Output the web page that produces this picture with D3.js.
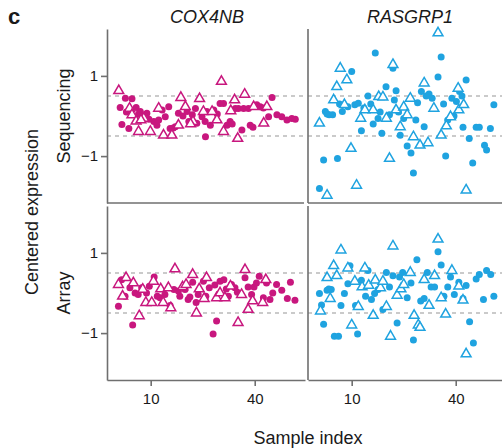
<!DOCTYPE html>
<html>
<head>
<meta charset="utf-8">
<script src="https://cdn.jsdelivr.net/npm/d3@7"></script>
<style>
  html, body { margin: 0; padding: 0; background: #fff; }
  svg { display: block; }
  text { font-family: "Liberation Sans", Arial, sans-serif; fill: #1a1a1a; }
</style>
</head>
<body>
<svg id="chart" width="502" height="448"></svg>
<script>
// ---------- data ----------
const genes = ["COX4NB", "RASGRP1"];
const platforms = ["Sequencing", "Array"];
const xTicks = [10, 40];
const yTicks = [-1, 1];
const refLines = [-0.5, 0.5];
const geneColors = ["#c8177e", "#1fa3e0"];

// Sequencing / COX4NB
const seqCoxCircX = [1.2,2.7,4.6,1.7,3.7,5.8,7,8.9,10.9,11.8,13.3,14.2,15.2,15.6,17.1,18,20.5,21,22,22.9,23.3,24.8,25.7,26.2,27.2,25.8,28.2,30,31,32,32.9,34.4,35.3,36.3,36.8,38.2,38.7,39.5,40.6,41.6,44,45,46.4,47.8,49.3,50.7,51.7,9.5,6.5,19.3,29.2,33.5,42.5,12.3,16.5,3];
const seqCoxCircY = [0.21,0.44,0.43,-0.21,-0.31,0.21,0.11,0.07,-0.14,-0.23,0.15,-0.02,0.23,-0.31,-0.27,0.07,0.11,-0.14,0.03,0.19,-0.18,-0.02,-0.14,0.11,-0.23,-0.52,0.15,0.31,0.31,-0.23,-0.14,0.19,0.19,-0.35,0.19,0.19,-0.23,-0.28,0.28,0.23,-0.02,0.46,0.03,-0.02,-0.1,-0.06,-0.08,-0.08,0.05,0.0,0.05,-0.2,0.2,-0.1,-0.3,0.1];
const seqCoxTriX = [0.8,3.9,4.6,6.5,5.8,8,9.9,12.3,13.7,16.1,18,18.7,20,22.2,24.1,25.2,27.7,29.1,30.4,31,33.1,34.2,35.1,37.1,39.7,43.5,42.6,7.2,21.5];
const seqCoxTriY = [0.63,0.19,0.03,-0.39,-0.13,-0.06,-0.39,0.19,-0.48,-0.48,-0.23,0.46,0.23,-0.14,0.43,0.11,0.11,-0.1,0.86,-0.39,0.13,0.4,-0.56,0.54,0.23,0.23,-0.18,-0.1,-0.2];

// Sequencing / RASGRP1
const seqRasCircX = [0.7,1.9,2.4,3.5,4.5,5.9,7.3,8.9,10,10.9,11.9,12.8,14.7,16.8,17.6,18.7,19.9,20.9,21.9,22.8,24,25,26,27.1,27.8,29,30.1,30.9,32.3,33.2,34.9,35.8,37.1,37.7,38.9,40.2,41.1,42.1,43,43.9,44.9,45.9,46.8,48.3,48.9,50,51,2.9,6.5,13.5,15.5,16.2,18.2,23.5,28.5,31.5,36.5,39.5,41.8,22.3];
const seqRasCircY = [-1.81,-1.1,0.11,0.03,0.03,-1.06,0.11,0.23,1.11,0.28,0.32,-0.37,0.5,1.57,-0.06,-0.43,0.73,0.03,1.19,0.63,-0.48,-0.06,-0.75,-0.92,-1.42,0.33,0.61,-0.27,0.55,0.44,0.97,1.47,-1.0,-0.1,0.44,0.36,0.61,-0.28,0.9,-0.56,-1.17,-0.28,-0.28,-0.73,-0.85,-0.31,0.28,0.05,0.3,0.2,0.3,-0.2,0.1,0.1,-0.1,0.5,0.3,0.0,0.5,0.4];
const seqRasTriX = [0.7,2.9,4.8,5.7,6.7,8.6,7.9,9.8,11.4,12.6,13.8,16.2,17.8,19,20,20.9,21.9,22.8,24,25,26,26.9,27.8,29.7,30.9,32,33.7,34.9,35.8,37.3,38.5,40.7,40.9,42.3,43];
const seqRasTriY = [-0.18,-1.98,0.4,0.73,1.19,0.9,0.28,-0.81,-1.73,-0.06,0.15,0.15,0.48,0.47,-0.06,-1.06,1.28,0.15,-0.27,0.22,0.03,0.44,-0.52,-0.73,0.82,-0.67,0.19,2.07,-0.48,-0.25,-0.02,0.69,0.15,0.28,-1.85];

// Array / COX4NB
const arrCoxCircX = [0.7,1.6,2.6,4,4.8,5.5,6.4,7.4,8.8,9.6,11,11.9,12.7,14.1,15.6,16.7,18,18.4,19.9,20.8,22.1,23.1,23.7,25.2,25.9,26.9,28,29,30,31.1,32.4,33.3,34.3,35,37.2,38.1,39.1,39.8,40.5,41.3,42.5,43.4,44.4,45.2,46.3,47.8,49.4,50.3,51.6,28.5,31.8,21.3];
const arrCoxCircY = [-0.33,0.33,-0.08,0.13,-0.8,0.0,-0.04,0.13,0.0,0.17,0.4,-0.08,-0.12,-0.04,-0.31,0.09,0.05,-0.08,0.09,-0.16,0.27,-0.24,-0.04,0.29,-0.08,0.13,-1.02,-0.7,0.29,0.33,-0.08,0.21,0.13,0.02,0.38,0.15,-0.04,0.15,0.25,0.42,-0.12,0.25,-0.16,0.0,0.21,0.07,-0.14,0.27,-0.18,0.2,0.1,-0.1];
const arrCoxTriX = [0.7,1.9,2.9,5,6.7,7.7,8.6,10.3,10.8,12.9,13.6,15.1,15.8,17,19.2,20.2,22.1,23.2,24,25.4,26.1,29,30,31.4,33,35.2,36.2,37.2,38.1,39.4,42.3,43.2];
const arrCoxTriY = [0.21,-0.08,0.38,0.25,-0.57,0.09,-0.24,-0.24,0.29,0.1,-0.24,0.13,-0.37,0.6,0.15,0.21,0.46,-0.5,0.1,-0.14,0.38,-0.12,0.0,-0.12,0.17,-0.74,-0.04,0.58,-0.41,-0.2,-0.24,0.33];

// Array / RASGRP1
const arrRasCircX = [0.7,1.9,2.9,4.1,5,6.2,6.9,7.9,8.9,9.5,11.1,11.7,12.8,14,14.7,15.7,16.6,17.6,19,20,20.9,21.9,23.1,23.8,24.7,26,27.1,27.8,28.8,29.9,30.9,31.8,32.9,34.9,35.8,36.6,37.7,38.5,39.6,40.9,42.1,43,44,45.1,45.9,46.8,48,48.9,50.1,51,1.3,3.4,33.9];
const arrRasCircY = [-0.01,-0.78,0.07,0.09,-1.08,-1.08,-0.31,-0.01,0.23,0.68,-0.31,-1.02,0.32,-0.08,0.56,-0.16,-0.01,0.09,-0.41,0.51,0.15,0.43,-0.75,0.4,0.51,-0.12,0.25,-1.17,0.83,-0.2,-0.14,0.51,0.15,1.03,0.7,-0.08,0.15,0.4,-0.04,0.27,-0.14,0.19,-0.72,-1.25,0.35,0.46,-0.16,0.56,0.46,-0.08,-0.3,0.1,0.15];
const arrRasTriX = [1,2.9,3.8,4.8,5.7,6.9,8.9,10,10.9,11.9,13,13.8,14.9,16.2,16.8,18.3,19,20,21.2,21.9,23.1,24.2,25,26.9,28,29.2,29.7,30.9,32.3,33.9,34.9,35.8,37.1,38.9,40.9,42.1,43];
const arrRasTriY = [-0.45,0.38,-0.14,0.68,0.43,1.07,0.62,-0.8,0.29,-0.34,0.15,0.62,0.19,-0.56,0.32,0.13,0.29,-0.34,-1.08,1.17,-0.06,0.1,0.21,0.51,-0.56,-0.8,-0.86,0.33,-0.31,0.43,1.34,-0.12,-0.53,0.56,0.17,-0.18,-1.52];

const panelsData = [
  [ {cx: seqCoxCircX, cy: seqCoxCircY, tx: seqCoxTriX, ty: seqCoxTriY},
    {cx: seqRasCircX, cy: seqRasCircY, tx: seqRasTriX, ty: seqRasTriY} ],
  [ {cx: arrCoxCircX, cy: arrCoxCircY, tx: arrCoxTriX, ty: arrCoxTriY},
    {cx: arrRasCircX, cy: arrRasCircY, tx: arrRasTriX, ty: arrRasTriY} ]
];

// ---------- layout ----------
const svg = d3.select("#chart");
const colLeft = [107, 308];
const panelW = 198;
const rowTop = [29, 206];
const panelH = 174;
const axisColor = "#6f6f6f";

const x = d3.scaleLinear().domain([-2.6, 54.5]).range([0, panelW]);
const y = d3.scaleLinear().domain([-2.17, 2.17]).range([panelH, 0]);

const defs = svg.append("defs");

platforms.forEach((plat, r) => {
  genes.forEach((gene, c) => {
    const g = svg.append("g").attr("transform", `translate(${colLeft[c]},${rowTop[r]})`);
    const clipId = `clip-${r}-${c}`;
    defs.append("clipPath").attr("id", clipId)
      .append("rect").attr("x", 0).attr("y", -4).attr("width", panelW).attr("height", panelH + 4);

    const plot = g.append("g").attr("clip-path", `url(#${clipId})`);
    // dashed reference lines
    plot.selectAll("line.ref").data(refLines).join("line")
      .attr("x1", 0).attr("x2", panelW)
      .attr("y1", d => y(d)).attr("y2", d => y(d))
      .attr("stroke", "#b9b9b9").attr("stroke-width", 1.6)
      .attr("stroke-dasharray", "4,4");

    const d = panelsData[r][c];
    const col = geneColors[c];
    const circ = d.cx.map((v, i) => ({x: v, y: d.cy[i]}));
    const tri = d.tx.map((v, i) => ({x: v, y: d.ty[i]}));

    plot.selectAll("circle").data(circ).join("circle")
      .attr("cx", p => x(p.x)).attr("cy", p => y(p.y))
      .attr("r", 3.5).attr("fill", col);

    const triPath = d3.symbol().type(d3.symbolTriangle).size(42)();
    plot.selectAll("path.tri").data(tri).join("path")
      .attr("class", "tri")
      .attr("d", triPath)
      .attr("transform", p => `translate(${x(p.x)},${y(p.y)})`)
      .attr("fill", "#fff").attr("stroke", col).attr("stroke-width", 1.5);

    // left border / y axis
    if (c === 0) {
      const ax = g.append("g").call(d3.axisLeft(y).tickValues(yTicks).tickSize(6).tickSizeOuter(0)
        .tickFormat(d3.format("d")));
      ax.select(".domain").attr("stroke", axisColor).attr("stroke-width", 1.6);
      ax.selectAll(".tick line").attr("stroke", axisColor).attr("stroke-width", 1.6);
      ax.selectAll(".tick text").attr("font-size", 15).attr("x", -9)
        .style("font-family", "'Liberation Sans', Arial, sans-serif").attr("fill", "#1a1a1a");
    } else {
      g.append("line").attr("x1", 0).attr("x2", 0).attr("y1", 0).attr("y2", panelH)
        .attr("stroke", axisColor).attr("stroke-width", 1.6);
    }
    // bottom border / x axis
    if (r === 1) {
      const ax = g.append("g").attr("transform", `translate(0,${panelH})`)
        .call(d3.axisBottom(x).tickValues(xTicks).tickSize(6).tickSizeOuter(0));
      ax.select(".domain").attr("stroke", axisColor).attr("stroke-width", 1.6);
      ax.selectAll(".tick line").attr("stroke", axisColor).attr("stroke-width", 1.6);
      ax.selectAll(".tick text").attr("font-size", 15).attr("y", 13)
        .style("font-family", "'Liberation Sans', Arial, sans-serif").attr("fill", "#1a1a1a");
    } else {
      g.append("line").attr("x1", 0).attr("x2", panelW - 1).attr("y1", panelH).attr("y2", panelH)
        .attr("stroke", axisColor).attr("stroke-width", 1.6);
    }
  });
});

// column titles
genes.forEach((gene, c) => {
  svg.append("text").attr("x", colLeft[c] + (c === 0 ? 100 : 102)).attr("y", 23)
    .attr("text-anchor", "middle").attr("font-size", 18).attr("font-style", "italic")
    .text(gene);
});
// row labels
platforms.forEach((plat, r) => {
  svg.append("text")
    .attr("transform", `translate(70,${rowTop[r] + y(0)}) rotate(-90)`)
    .attr("text-anchor", "middle").attr("font-size", 18).text(plat);
});
// axis titles
svg.append("text").attr("transform", "translate(38,212) rotate(-90)")
  .attr("text-anchor", "middle").attr("font-size", 18).text("Centered expression");
svg.append("text").attr("x", 308).attr("y", 444)
  .attr("text-anchor", "middle").attr("font-size", 18).text("Sample index");
// panel letter
svg.append("text").attr("x", 8).attr("y", 24).attr("font-size", 22)
  .attr("font-weight", "bold").text("c");
</script>
</body>
</html>
